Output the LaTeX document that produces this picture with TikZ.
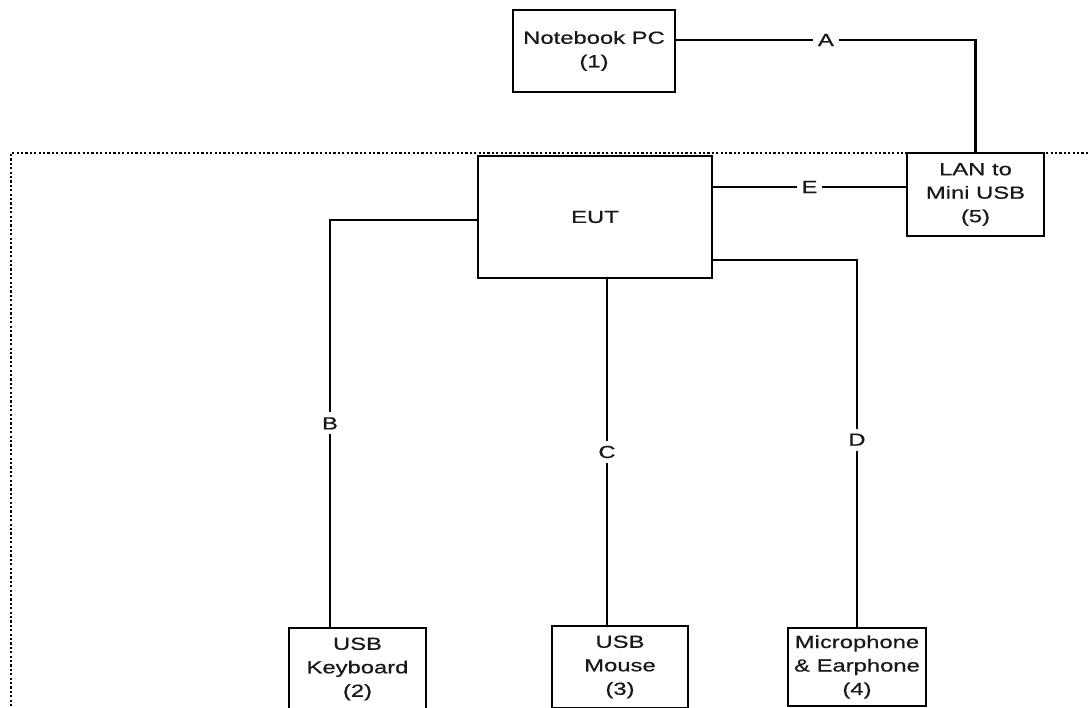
\documentclass[tikz,border=0pt]{standalone}
\usepackage{fontspec}
\setmainfont{Liberation Sans}[FakeStretch=1.36,FakeBold=0.6]
\begin{document}
\begin{tikzpicture}[x=1pt,y=-1pt,
  box/.style={draw=black,line width=2.6pt,fill=white,align=center,inner sep=0pt,
    font=\fontsize{17.5}{23.5}\selectfont,text=black!90},
  wire/.style={line width=2.4pt,line join=miter},
  lbl/.style={fill=white,inner sep=5pt,font=\fontsize{17.5}{20}\selectfont,text=black!90},
  border/.style={line width=2.6pt,dash pattern=on 2.2pt off 2.2pt,black}]
\useasboundingbox (0,0) rectangle (1088,708);
\clip (0,0) rectangle (1088,708);
\draw[border] (1088,153) -- (11,153) -- (11,712);
\node[box,minimum width=162pt,minimum height=82pt] (nb) at (594,51) {Notebook PC\\(1)};
\node[box,minimum width=137pt,minimum height=83pt] (lan) at (975.5,194.5) {LAN to\\Mini USB\\(5)};
\node[box,minimum width=234pt,minimum height=122pt] (eut) at (595,217) {EUT};
\node[box,minimum width=137pt,minimum height=82pt] (kb) at (357.5,669) {USB\\Keyboard\\(2)};
\node[box,minimum width=136pt,minimum height=82pt] (ms) at (620,667) {USB\\Mouse\\(3)};
\node[box,minimum width=138pt,minimum height=78pt] (mic) at (857,667) {Microphone\\\&~Earphone\\(4)};
\draw[wire] ([yshift=11pt]nb.east) -| node[lbl,pos=0.25] {A} (lan.north);
\draw[wire] ([yshift=30pt]eut.east) -- node[lbl] {E} ([yshift=7.5pt]lan.west);
\draw[wire] ([yshift=-3pt]eut.west) -| node[lbl,pos=0.75] {B} ([xshift=-27.5pt]kb.north);
\draw[wire] ([xshift=12pt]eut.south) -- node[lbl] {C} ([xshift=-13pt]ms.north);
\draw[wire] ([yshift=-43pt]eut.east) -| node[lbl,pos=0.745] {D} (mic.north);
\end{tikzpicture}
\end{document}
